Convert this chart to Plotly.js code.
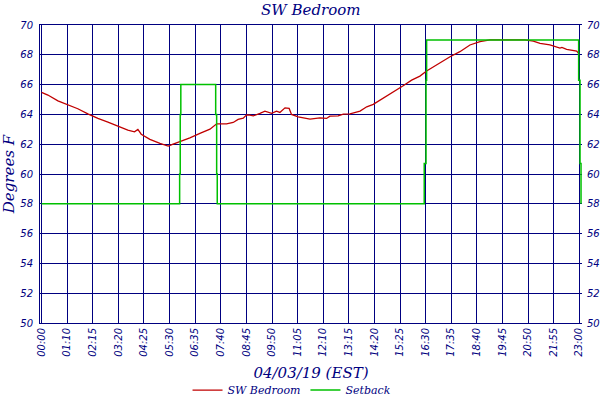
<!DOCTYPE html>
<html>
<head>
<meta charset="utf-8">
<script src="https://cdn.plot.ly/plotly-3.0.1.min.js"></script>
<style>html,body{margin:0;padding:0;background:#fff;}#chart{width:600px;height:400px;}</style>
</head>
<body>
<div id="chart"></div>
<script>
// x = sample index (5-minute samples), tick every 13 samples
var tickIndex = [0,13,26,39,52,65,78,91,104,117,130,143,156,169,182,195,208,221,234,247,260,273];
var tickLabels = ["00:00","01:10","02:15","03:20","04:25","05:30","06:35","07:40","08:45","09:50","11:05",
                  "12:10","13:15","14:20","15:25","16:30","17:35","18:40","19:45","20:50","21:55","23:00"];

var roomX = [0,3.2,8.3,13.4,18.4,23.5,28.6,33.7,38.8,43.8,47.2,48.9,50.6,53.6,55,60.1,64.3,66.8,70.2,75.3,
             80.4,85.5,88.9,93.9,97.3,99.8,102.4,104.1,105.8,107.5,110.9,113.4,116.8,119.3,121,123.6,125.7,126.9,
             130.3,136.3,141.3,144.7,146.4,150.6,153.2,156.6,161.7,165.1,168.4,173.5,178.6,183.6,187.9,192.1,
             195.5,199.7,202.3,207.4,212.4,217.5,222.6,226,227.7,236,245.4,249.7,253.1,258.1,261.5,263.2,264.2,
             266.6,271.7,273];
var roomTemp = [65.48,65.30,64.91,64.64,64.38,64.04,63.73,63.48,63.23,62.94,62.83,62.99,62.67,62.45,62.32,62.05,
                61.87,62.0,62.16,62.43,62.72,63.01,63.37,63.37,63.46,63.66,63.75,63.97,63.95,63.90,64.07,64.22,
                64.07,64.22,64.13,64.44,64.40,64.00,63.84,63.68,63.77,63.73,63.88,63.90,64.02,64.04,64.22,64.51,
                64.67,65.07,65.50,65.92,66.30,66.57,66.91,67.27,67.49,67.87,68.21,68.66,68.88,68.97,69.0,69.0,
                69.0,68.92,68.77,68.66,68.54,68.45,68.50,68.37,68.25,68.05];

var setbackX = [0,70.1,70.1,70.4,70.4,70.7,70.7,88.4,88.4,88.9,88.9,89.2,89.2,194.3,194.3,195.2,195.2,195.5,195.5,
                272.7,272.7,273.4,273.4,273.9,273.9];
var setbackTemp = [58,58,60,60,64,64,66,66,64,64,60,60,58,58,60.7,60.7,66.3,66.3,69,69,66.3,66.3,60.7,60.7,58];

var navy = "#000080";
var tickFont = {family: "DejaVu Sans", size: 10, color: navy, style: "italic"};
var serif = "DejaVu Serif";

var traces = [
  {x: roomX, y: roomTemp, type: "scatter", mode: "lines", name: "SW Bedroom",
   line: {color: "#c00000", width: 1.3}, hoverinfo: "skip"},
  {x: setbackX, y: setbackTemp, type: "scatter", mode: "lines", name: "Setback",
   line: {color: "#00c000", width: 1.5}, hoverinfo: "skip"},
  {x: [null], y: [null], yaxis: "y2", type: "scatter", mode: "lines", showlegend: false, hoverinfo: "skip"}
];

var layout = {
  width: 600, height: 400,
  margin: {l: 40, r: 18, t: 25, b: 77, autoexpand: false},
  paper_bgcolor: "#ffffff", plot_bgcolor: "#ffffff",
  title: {text: "SW Bedroom", font: {family: serif, size: 15, color: navy, style: "italic"},
          x: 0.518, xanchor: "center", y: 0.975, yanchor: "middle"},
  xaxis: {
    range: [-0.8, 274.4], tickmode: "array", tickvals: tickIndex, ticktext: tickLabels, automargin: false,
    tickangle: -90, tickfont: tickFont, ticks: "", showgrid: true, gridcolor: navy, gridwidth: 1,
    showline: true, linecolor: navy, linewidth: 1, mirror: true, zeroline: false,
    title: {text: "04/03/19 (EST)", font: {family: serif, size: 15, color: navy, style: "italic"}, standoff: 11}
  },
  yaxis: {
    range: [50, 70], dtick: 2, tick0: 50, tickfont: tickFont, ticks: "", showgrid: true, automargin: false,
    gridcolor: navy, gridwidth: 1, showline: true, linecolor: navy, linewidth: 1, zeroline: false,
    ticklabelstandoff: 4,
    title: {text: "Degrees F", font: {family: serif, size: 15, color: navy, style: "italic"}, standoff: 6}
  },
  yaxis2: {
    range: [50, 70], dtick: 2, tick0: 50, tickfont: tickFont, ticks: "", overlaying: "y", side: "right",
    showgrid: false, zeroline: false, showline: false, ticklabelstandoff: 4, automargin: false
  },
  showlegend: true,
  legend: {orientation: "h", x: 0.465, xanchor: "center", y: -0.225, yanchor: "middle",
           font: {family: serif, size: 11, color: navy, style: "italic"}, itemwidth: 30,
           tracegroupgap: 0, itemclick: false}
};

Plotly.newPlot("chart", traces, layout, {staticPlot: true, displayModeBar: false});
</script>
</body>
</html>
